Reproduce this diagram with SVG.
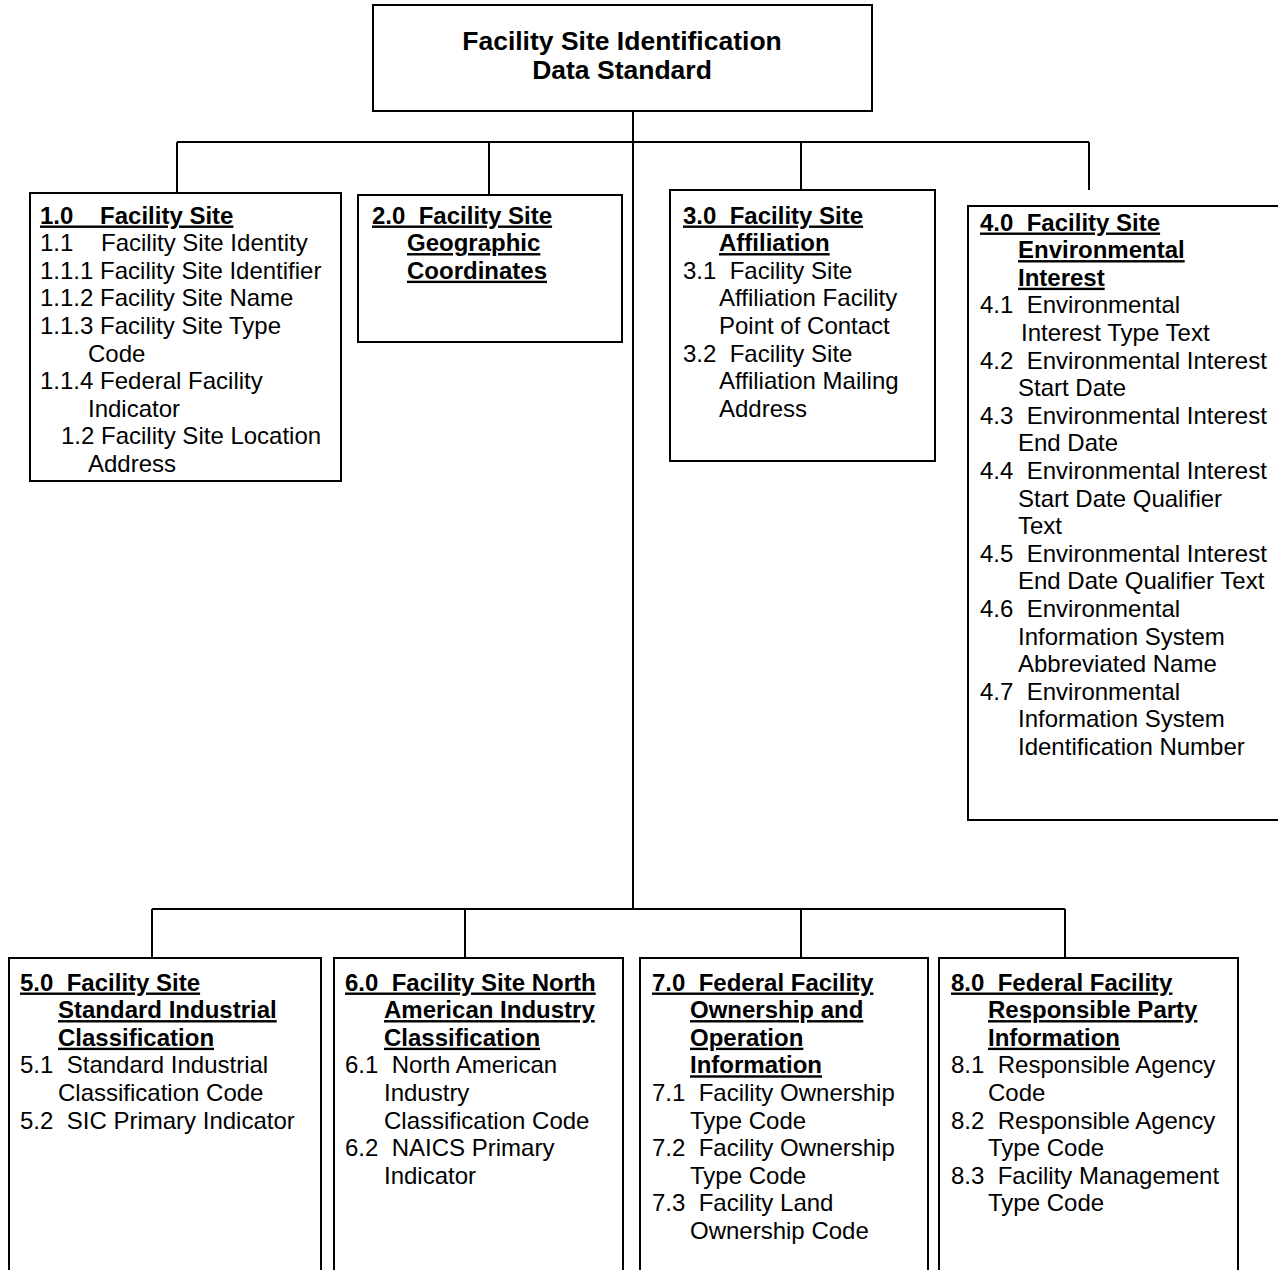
<svg xmlns="http://www.w3.org/2000/svg" width="1278" height="1270" viewBox="0 0 1278 1270">
<style>
.box{fill:#fff;stroke:#000;stroke-width:2}
.con{fill:none;stroke:#000;stroke-width:2}
text{font-family:"Liberation Sans",Arial,Helvetica,sans-serif;font-size:24px;fill:#000;white-space:pre}
.h{font-weight:bold;text-decoration:underline}
.title{font-weight:bold;font-size:26.5px;text-anchor:middle}
</style>
<rect width="1278" height="1270" fill="#fff"/>
<g id="connectors">
<path class="con" d="M633,111 V909 M177,142 H1089 M177,142 V193 M489,142 V195 M801,142 V190 M1089,142 V190 M152,909 H1065 M152,909 V958 M465,909 V958 M801,909 V958 M1065,909 V958"/>
</g>
<g id="root">
<rect class="box" x="373" y="5" width="499" height="106"/>
<text class="title" x="622" y="50">Facility Site Identification</text>
<text class="title" x="622" y="78.5">Data Standard</text>
</g>
<g id="node1">
<rect class="box" x="30" y="193" width="311" height="288"/>
<text class="h" x="40" y="223.5">1.0    Facility Site</text>
<text x="40" y="251.1">1.1<tspan x="101">Facility Site Identity</tspan></text>
<text x="40" y="278.7">1.1.1 Facility Site Identifier</text>
<text x="40" y="306.3">1.1.2 Facility Site Name</text>
<text x="40" y="333.9">1.1.3 Facility Site Type</text>
<text x="88" y="361.5">Code</text>
<text x="40" y="389.1">1.1.4 Federal Facility</text>
<text x="88" y="416.7">Indicator</text>
<text x="61" y="444.3">1.2 Facility Site Location</text>
<text x="88" y="471.9">Address</text>
</g>
<g id="node2">
<rect class="box" x="358" y="195" width="264" height="147"/>
<text class="h" x="372" y="223.5">2.0  Facility Site</text>
<text class="h" x="407" y="251.1">Geographic</text>
<text class="h" x="407" y="278.7">Coordinates</text>
</g>
<g id="node3">
<rect class="box" x="670" y="190" width="265" height="271"/>
<text class="h" x="683" y="223.5">3.0  Facility Site</text>
<text class="h" x="719" y="251.1">Affiliation</text>
<text x="683" y="278.7">3.1  Facility Site</text>
<text x="719" y="306.3">Affiliation Facility</text>
<text x="719" y="333.9">Point of Contact</text>
<text x="683" y="361.5">3.2  Facility Site</text>
<text x="719" y="389.1">Affiliation Mailing</text>
<text x="719" y="416.7">Address</text>
</g>
<g id="node4">
<rect class="box" x="968" y="206" width="320" height="614"/>
<text class="h" x="980" y="230.5">4.0  Facility Site</text>
<text class="h" x="1018" y="258.1">Environmental</text>
<text class="h" x="1018" y="285.7">Interest</text>
<text x="980" y="313.3">4.1  Environmental</text>
<text x="1021" y="340.9">Interest Type Text</text>
<text x="980" y="368.5">4.2  Environmental Interest</text>
<text x="1018" y="396.1">Start Date</text>
<text x="980" y="423.7">4.3  Environmental Interest</text>
<text x="1018" y="451.3">End Date</text>
<text x="980" y="478.9">4.4  Environmental Interest</text>
<text x="1018" y="506.5">Start Date Qualifier</text>
<text x="1018" y="534.1">Text</text>
<text x="980" y="561.7">4.5  Environmental Interest</text>
<text x="1018" y="589.3">End Date Qualifier Text</text>
<text x="980" y="616.9">4.6  Environmental</text>
<text x="1018" y="644.5">Information System</text>
<text x="1018" y="672.1">Abbreviated Name</text>
<text x="980" y="699.7">4.7  Environmental</text>
<text x="1018" y="727.3">Information System</text>
<text x="1018" y="754.9">Identification Number</text>
</g>
<g id="node5">
<rect class="box" x="9" y="958" width="312" height="330"/>
<text class="h" x="20" y="990.5">5.0  Facility Site</text>
<text class="h" x="58" y="1018.1">Standard Industrial</text>
<text class="h" x="58" y="1045.7">Classification</text>
<text x="20" y="1073.3">5.1  Standard Industrial</text>
<text x="58" y="1100.9">Classification Code</text>
<text x="20" y="1128.5">5.2  SIC Primary Indicator</text>
</g>
<g id="node6">
<rect class="box" x="334" y="958" width="289" height="330"/>
<text class="h" x="345" y="990.5">6.0  Facility Site North</text>
<text class="h" x="384" y="1018.1">American Industry</text>
<text class="h" x="384" y="1045.7">Classification</text>
<text x="345" y="1073.3">6.1  North American</text>
<text x="384" y="1100.9">Industry</text>
<text x="384" y="1128.5">Classification Code</text>
<text x="345" y="1156.1">6.2  NAICS Primary</text>
<text x="384" y="1183.7">Indicator</text>
</g>
<g id="node7">
<rect class="box" x="640" y="958" width="288" height="330"/>
<text class="h" x="652" y="990.5">7.0  Federal Facility</text>
<text class="h" x="690" y="1018.1">Ownership and</text>
<text class="h" x="690" y="1045.7">Operation</text>
<text class="h" x="690" y="1073.3">Information</text>
<text x="652" y="1100.9">7.1  Facility Ownership</text>
<text x="690" y="1128.5">Type Code</text>
<text x="652" y="1156.1">7.2  Facility Ownership</text>
<text x="690" y="1183.7">Type Code</text>
<text x="652" y="1211.3">7.3  Facility Land</text>
<text x="690" y="1238.9">Ownership Code</text>
</g>
<g id="node8">
<rect class="box" x="939" y="958" width="299" height="330"/>
<text class="h" x="951" y="990.5">8.0  Federal Facility</text>
<text class="h" x="988" y="1018.1">Responsible Party</text>
<text class="h" x="988" y="1045.7">Information</text>
<text x="951" y="1073.3">8.1  Responsible Agency</text>
<text x="988" y="1100.9">Code</text>
<text x="951" y="1128.5">8.2  Responsible Agency</text>
<text x="988" y="1156.1">Type Code</text>
<text x="951" y="1183.7">8.3  Facility Management</text>
<text x="988" y="1211.3">Type Code</text>
</g>
</svg>
